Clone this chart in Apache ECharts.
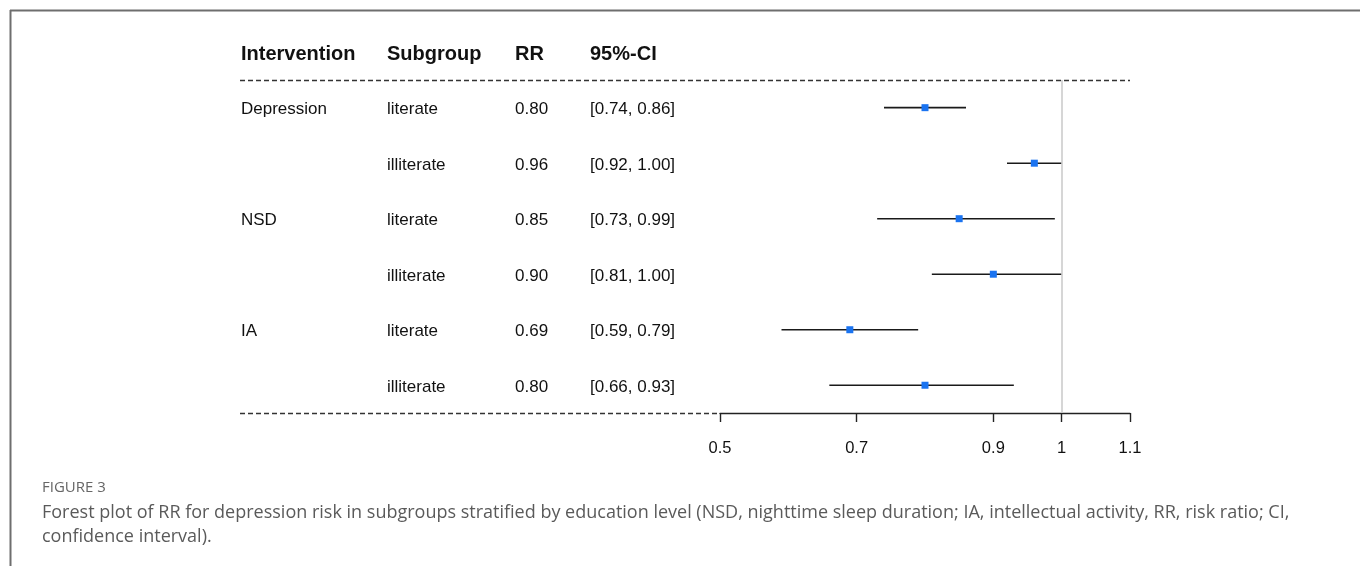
<!DOCTYPE html>
<html>
<head>
<meta charset="utf-8">
<script src="https://cdn.jsdelivr.net/npm/echarts@6/dist/echarts.min.js"></script>
<style>html,body{margin:0;padding:0;background:#fff;}#c{width:1360px;height:566px;}</style>
</head>
<body>
<div id="c"></div>
<script>
const headers = ['Intervention', 'Subgroup', 'RR', '95%-CI'];
const intervention = ['Depression', '', 'NSD', '', 'IA', ''];
const subgroup = ['literate', 'illiterate', 'literate', 'illiterate', 'literate', 'illiterate'];
const rr = [0.80, 0.96, 0.85, 0.90, 0.69, 0.80];
const ciLow = [0.74, 0.92, 0.73, 0.81, 0.59, 0.66];
const ciHigh = [0.86, 1.00, 0.99, 1.00, 0.79, 0.93];
const xTicks = [0.5, 0.7, 0.9, 1, 1.1];
const refValue = 1;
const figLabel = 'FIGURE 3';
const captionLines = [
  'Forest plot of RR for depression risk in subgroups stratified by education level (NSD, nighttime sleep duration; IA, intellectual activity, RR, risk ratio; CI,',
  'confidence interval).'
];

const FONT = '"Liberation Sans", Arial, sans-serif';
const colX = [1, 147, 275, 350];
const nRows = rr.length;

const textRows = [];
textRows.push({ value: [0, -1], cells: headers, bold: true });
for (let i = 0; i < nRows; i++) {
  textRows.push({ value: [0, i], cells: [intervention[i], subgroup[i], rr[i].toFixed(2), '[' + ciLow[i].toFixed(2) + ', ' + ciHigh[i].toFixed(2) + ']'], bold: false });
}
const forestData = rr.map((v, i) => [v, i, ciLow[i], ciHigh[i]]);

const chart = echarts.init(document.getElementById('c'));
const dashStyle = { type: [5, 3], color: '#333', width: 1.3 };

chart.setOption({
  animation: false,
  grid: [
    { left: 720, right: 230, top: 24.4, bottom: 153 },
    { left: 240, width: 480, top: 24.4, bottom: 153 }
  ],
  xAxis: [
    {
      gridIndex: 0, type: 'value', min: 0.5, max: 1.1, position: 'bottom',
      axisLine: { show: true, onZero: false, lineStyle: { color: '#222', width: 1.4 } },
      axisTick: { show: true, length: 9, customValues: xTicks, lineStyle: { color: '#222', width: 1.4 } },
      axisLabel: { show: true, customValues: xTicks, margin: 27, color: '#111', fontSize: 16.5, fontFamily: FONT,
        formatter: v => String(v) },
      splitLine: { show: false }
    },
    { gridIndex: 1, type: 'value', min: 0, max: 480, show: false }
  ],
  yAxis: [
    { gridIndex: 0, type: 'value', min: -1.5, max: 5.5, inverse: true, show: false },
    { gridIndex: 1, type: 'value', min: -1.5, max: 5.5, inverse: true, show: false }
  ],
  series: [
    {
      type: 'custom', xAxisIndex: 1, yAxisIndex: 1, silent: true, clip: false,
      data: textRows,
      renderItem: function (params, api) {
        const row = textRows[params.dataIndex];
        const children = row.cells.map((t, k) => {
          const p = api.coord([colX[k], row.value[1]]);
          return {
            type: 'text',
            style: {
              x: p[0], y: p[1] + 2, text: t, fill: '#111',
              font: (row.bold ? 'bold 20px ' : '17px ') + FONT,
              verticalAlign: 'middle', align: 'left'
            }
          };
        });
        return { type: 'group', children: children };
      },
      markLine: {
        silent: true, symbol: 'none', label: { show: false },
        lineStyle: dashStyle,
        data: [
          [{ coord: [0, -0.5] }, { coord: [480, -0.5] }],
          [{ coord: [0, 5.5] }, { coord: [480, 5.5] }]
        ]
      }
    },
    {
      type: 'custom', xAxisIndex: 0, yAxisIndex: 0, silent: true, clip: false,
      data: forestData,
      encode: { x: [0, 2, 3], y: 1 },
      renderItem: function (params, api) {
        const y = api.value(1);
        const c = api.coord([api.value(0), y]);
        const lo = api.coord([api.value(2), y]);
        const hi = api.coord([api.value(3), y]);
        const s = 7;
        return {
          type: 'group',
          children: [
            { type: 'line', shape: { x1: lo[0], y1: lo[1], x2: hi[0], y2: hi[1] }, style: { stroke: '#1a1a1a', lineWidth: 1.6 } },
            { type: 'rect', shape: { x: c[0] - s / 2, y: c[1] - s / 2, width: s, height: s }, style: { fill: '#1a73f0' } }
          ]
        };
      },
      markLine: {
        silent: true, symbol: 'none', label: { show: false },
        data: [
          [{ coord: [0.5, -0.5], lineStyle: dashStyle }, { coord: [1.1, -0.5] }],
          [{ coord: [refValue, -0.5], lineStyle: { type: 'solid', color: '#c8c8c8', width: 1.5 } }, { coord: [refValue, 5.5] }]
        ]
      }
    }
  ],
  graphic: [
    { type: 'line', shape: { x1: 10, y1: 10.5, x2: 1360, y2: 10.5 }, style: { stroke: '#6e6e6e', lineWidth: 2 }, silent: true },
    { type: 'line', shape: { x1: 10.5, y1: 10, x2: 10.5, y2: 566 }, style: { stroke: '#6e6e6e', lineWidth: 2 }, silent: true },
    { type: 'text', left: 42, top: 480, silent: true,
      style: { text: figLabel, fill: '#666', font: '15px "Open Sans", sans-serif' } },
    { type: 'text', left: 42, top: 501, silent: true,
      style: { text: captionLines.join('\n'), fill: '#5a5a5a', font: '18px "Open Sans", sans-serif', lineHeight: 24 } }
  ]
});
</script>
</body>
</html>
